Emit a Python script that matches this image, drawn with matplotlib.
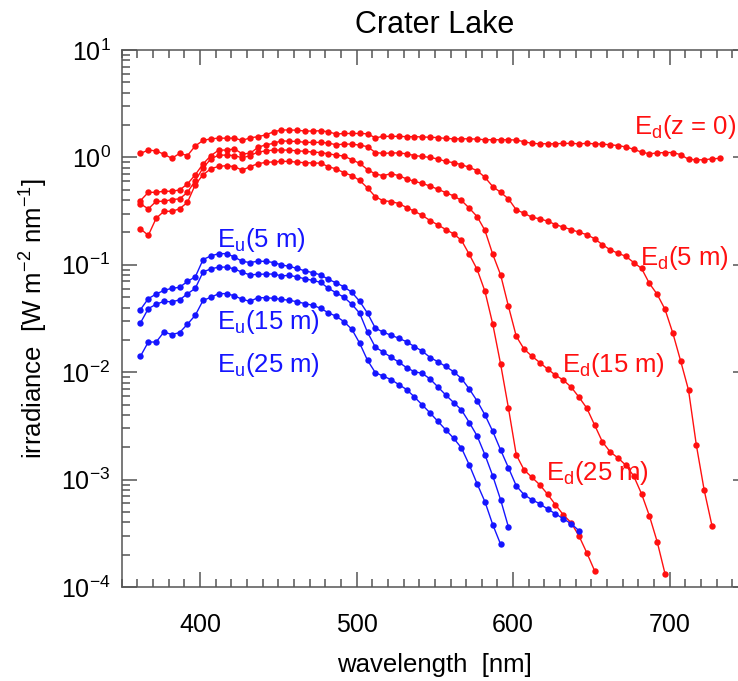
import matplotlib
matplotlib.use("Agg")
import matplotlib.pyplot as plt
from matplotlib.ticker import LogLocator, MultipleLocator, NullFormatter

plt.rcParams['font.family'] = ['Liberation Sans', 'DejaVu Sans']
plt.rcParams['mathtext.default'] = 'regular'

# wavelength grid [nm]
wavelength = [362, 367, 372, 377, 382, 387, 392, 397, 402, 407, 412, 417, 422, 427, 432,
              437, 442, 447, 452, 457, 462, 467, 472, 477, 482, 487, 492, 497, 502, 507,
              512, 517, 522, 527, 532, 537, 542, 547, 552, 557, 562, 567, 572, 577, 582,
              587, 592, 597, 602, 607, 612, 617, 622, 627, 632, 637, 642, 647, 652, 657,
              662, 667, 672, 677, 682, 687, 692, 697, 702, 707, 712, 717, 722, 727, 732]

# downwelling irradiance
ed_0 = [1.09, 1.17, 1.15, 1.07, 0.98, 1.09, 1.04, 1.28, 1.44, 1.49, 1.51, 1.51, 1.51, 1.44, 1.52,
        1.56, 1.62, 1.73, 1.80, 1.80, 1.79, 1.76, 1.76, 1.77, 1.73, 1.65, 1.67, 1.67, 1.67, 1.66,
        1.52, 1.57, 1.57, 1.57, 1.56, 1.56, 1.55, 1.54, 1.53, 1.50, 1.49, 1.49, 1.49, 1.48, 1.46,
        1.46, 1.46, 1.46, 1.45, 1.40, 1.35, 1.34, 1.34, 1.34, 1.35, 1.35, 1.34, 1.35, 1.34, 1.33,
        1.31, 1.29, 1.25, 1.19, 1.12, 1.08, 1.10, 1.11, 1.11, 1.06, 0.96, 0.95, 0.95, 0.97, 0.98]
ed_5 = [0.396, 0.473, 0.473, 0.484, 0.484, 0.498, 0.566, 0.69, 0.87, 1.04, 1.17, 1.17, 1.20, 1.08, 1.09,
        1.24, 1.31, 1.35, 1.43, 1.41, 1.41, 1.38, 1.38, 1.38, 1.36, 1.31, 1.33, 1.33, 1.30, 1.26,
        1.11, 1.09, 1.10, 1.10, 1.08, 1.04, 1.02, 1.00, 0.966, 0.918, 0.893, 0.855, 0.808, 0.753, 0.652,
        0.535, 0.473, 0.411, 0.325, 0.302, 0.277, 0.268, 0.255, 0.237, 0.224, 0.213, 0.201, 0.191, 0.175, 0.154,
        0.138, 0.128, 0.120, 0.105, 0.0926, 0.0672, 0.0531, 0.0385, 0.0231, 0.0127, 0.00683, 0.0021, 0.0008, 0.000372]
ed_15 = [0.369, 0.332, 0.39, 0.39, 0.405, 0.411, 0.473, 0.608, 0.80, 0.97, 1.05, 1.05, 1.04, 0.99, 1.04,
         1.12, 1.15, 1.17, 1.17, 1.17, 1.15, 1.14, 1.12, 1.11, 1.08, 1.05, 1.03, 0.95, 0.88, 0.77,
         0.70, 0.676, 0.706, 0.676, 0.63, 0.598, 0.573, 0.540, 0.505, 0.47, 0.438, 0.397, 0.337, 0.281, 0.209,
         0.125, 0.0806, 0.0411, 0.0216, 0.0164, 0.0141, 0.0123, 0.0107, 0.0094, 0.00845, 0.00728, 0.00587, 0.00464, 0.00323, 0.00225,
         0.00181, 0.00159, 0.00136, 0.00108, 0.000738, 0.000461, 0.000264, 0.000133]
ed_25 = [0.216, 0.188, 0.271, 0.315, 0.315, 0.332, 0.382, 0.558, 0.69, 0.785, 0.825, 0.838, 0.82, 0.76, 0.82,
         0.874, 0.899, 0.908, 0.918, 0.918, 0.902, 0.893, 0.887, 0.884, 0.82, 0.78, 0.72, 0.676, 0.61, 0.52,
         0.43, 0.395, 0.388, 0.372, 0.341, 0.315, 0.288, 0.258, 0.235, 0.213, 0.194, 0.169, 0.125, 0.0906, 0.0566,
         0.028, 0.0119, 0.00464, 0.0017, 0.00123, 0.00105, 0.000895, 0.000731, 0.000584, 0.000471, 0.000397, 0.00030, 0.000209, 0.000142]

# upwelling irradiance
eu_5 = [0.0383, 0.0484, 0.0534, 0.0578, 0.0604, 0.0617, 0.0701, 0.0772, 0.112, 0.121, 0.127, 0.127, 0.118, 0.1076, 0.105,
        0.108, 0.1076, 0.105, 0.0998, 0.0967, 0.0926, 0.0878, 0.0845, 0.0806, 0.0732, 0.0679, 0.0623, 0.0554, 0.0457, 0.0354,
        0.0257, 0.0236, 0.0221, 0.0207, 0.0192, 0.0173, 0.0157, 0.0137, 0.0125, 0.0113, 0.0101, 0.00873, 0.00697, 0.0054, 0.004,
        0.00281, 0.00189, 0.00129, 0.000875, 0.000723, 0.000649, 0.000596, 0.000532, 0.000481, 0.000432, 0.000389, 0.000335]
eu_15 = [0.0288, 0.0391, 0.0429, 0.0457, 0.0452, 0.0472, 0.0537, 0.0604, 0.0859, 0.0916, 0.0952, 0.0952, 0.0916, 0.085, 0.0806,
         0.0815, 0.082, 0.082, 0.0789, 0.0797, 0.0772, 0.074, 0.0716, 0.0687, 0.0604, 0.0548, 0.0498, 0.0429, 0.0354, 0.0235,
         0.0171, 0.0154, 0.0138, 0.0124, 0.011, 0.0101, 0.00975, 0.00863, 0.00728, 0.00613, 0.00522, 0.00445, 0.0034, 0.00255, 0.0017,
         0.00108, 0.000649, 0.000362]
eu_25 = [0.0141, 0.0191, 0.0191, 0.0237, 0.0224, 0.0234, 0.028, 0.0339, 0.0467, 0.0498, 0.0539, 0.0539, 0.0514, 0.0477, 0.0457,
         0.0495, 0.0493, 0.0488, 0.0477, 0.0467, 0.0453, 0.0435, 0.042, 0.0394, 0.0357, 0.0332, 0.0295, 0.0251, 0.0186, 0.0129,
         0.0099, 0.0092, 0.00853, 0.00767, 0.00689, 0.00587, 0.00495, 0.00417, 0.00348, 0.0029, 0.00243, 0.00197, 0.00137, 0.000914, 0.000622,
         0.00038, 0.00025]

red = '#ff1010'
blue = '#1515ff'

series = [
    (ed_0, red), (ed_5, red), (ed_15, red), (ed_25, red),
    (eu_5, blue), (eu_15, blue), (eu_25, blue),
]

# label text, anchor (wavelength, irradiance at baseline), colour
labels = [
    ('E$_d$(z = 0)', 677.5, 1.66, red),
    ('E$_d$(5 m)', 681, 0.0986, red),
    ('E$_d$(15 m)', 631, 0.0101, red),
    ('E$_d$(25 m)', 621, 0.00100, red),
    ('E$_u$(5 m)', 410.6, 0.146, blue),
    ('E$_u$(15 m)', 410.6, 0.0255, blue),
    ('E$_u$(25 m)', 410.6, 0.0101, blue),
]

fig = plt.figure(figsize=(7.38, 6.81), dpi=100)
# axes runs past the right edge of the picture, like the original crop
ax = fig.add_axes([121.7 / 738, 1 - 587 / 681, (748 - 121.7) / 738, (587 - 50) / 681])

for values, color in series:
    ax.plot(wavelength[:len(values)], values, '-o', color=color,
            linewidth=1.0, markersize=4.6, markeredgewidth=0)

for text, x, y, color in labels:
    ax.text(x, y, text, color=color, fontsize=18.5, va='baseline', ha='left')

ax.set_yscale('log')
ax.set_xlim(350, 750)
ax.set_ylim(1e-4, 10)

ax.xaxis.set_major_locator(MultipleLocator(100))
ax.xaxis.set_minor_locator(MultipleLocator(10))
ax.yaxis.set_major_locator(LogLocator(base=10, numticks=10))
ax.yaxis.set_minor_locator(LogLocator(base=10, subs=range(2, 10), numticks=20))
ax.yaxis.set_minor_formatter(NullFormatter())

ax.tick_params(which='both', direction='in', top=True, right=True,
               color='#555555', width=1.1, labelsize=18, labelcolor='black')
ax.tick_params(which='major', length=11)
ax.tick_params(which='minor', length=6)
ax.tick_params(axis='x', pad=19)
ax.tick_params(axis='y', pad=8)
for spine in ax.spines.values():
    spine.set_color('#555555')
    spine.set_linewidth(1.1)

ax.set_xlabel('wavelength  [nm]', fontsize=18.5, labelpad=11)
ax.set_ylabel('irradiance  [W m$^{-2}$ nm$^{-1}$]', fontsize=18.5, labelpad=8)
ax.set_title('Crater Lake', fontsize=22, pad=12)

fig.savefig('out.png', dpi=100)
